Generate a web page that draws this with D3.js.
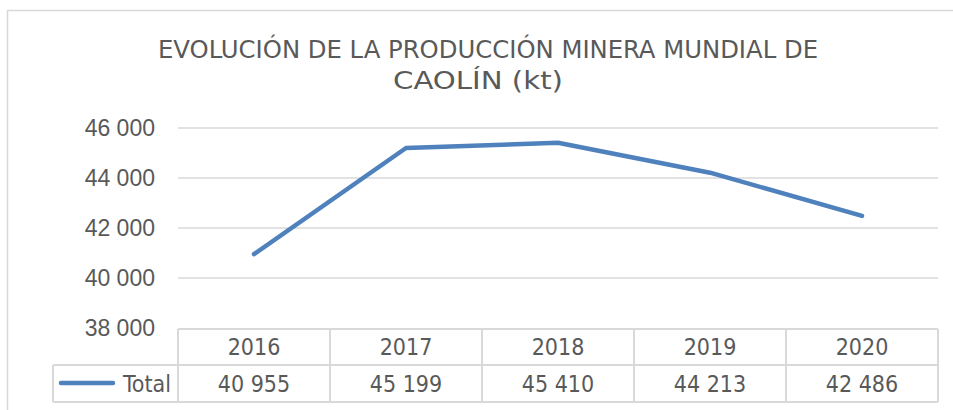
<!DOCTYPE html>
<html><head><meta charset="utf-8">
<script src="https://cdn.jsdelivr.net/npm/d3@7"></script>
<style>
html,body{margin:0;padding:0;background:#fff;}
svg{display:block;font-family:"DejaVu Sans Condensed","DejaVu Sans",sans-serif;}
</style></head>
<body>
<svg id="chart" width="953" height="410"></svg>
<script>
const titleLines = ["EVOLUCIÓN DE LA PRODUCCIÓN MINERA MUNDIAL DE", "CAOLÍN (kt)"];
const years = ["2016", "2017", "2018", "2019", "2020"];
const totals = [40955, 45199, 45410, 44213, 42486];
const yTicks = [38000, 40000, 42000, 44000, 46000];
const seriesName = "Total";

const W = 953, H = 410;
const svg = d3.select("#chart");
const grey = "#d9d9d9", textCol = "#595959", lineCol = "#4f81bd";

const loc = d3.formatLocale({decimal: ",", thousands: "\u00a0", grouping: [3], currency: ["", ""]});
const fmt = loc.format(",d");

// outer border
svg.append("path").attr("d", `M7.5,${H} V10.5 H${W}`).attr("fill", "none").attr("stroke", grey).attr("stroke-width", 1.5);

const x = d3.scaleBand().domain(years).range([178, 938]).padding(0);
const y = d3.scaleLinear().domain([38000, 46000]).range([328, 128]);

// title
const title = svg.append("text").attr("text-anchor", "middle").attr("fill", textCol).style("font-size", "25px");
const titleWidths = [660, 170];
titleLines.forEach((t, i) => title.append("tspan").attr("x", [488, 478][i]).attr("y", 58 + i * 31)
  .attr("textLength", titleWidths[i]).attr("lengthAdjust", "spacingAndGlyphs").text(t));

// gridlines
svg.append("g").selectAll("line").data(yTicks.slice(1)).join("line")
  .attr("x1", 178).attr("x2", 938).attr("y1", d => y(d)).attr("y2", d => y(d))
  .attr("stroke", grey).attr("stroke-width", 1.5);

// y axis labels
const yAxis = d3.axisLeft(y).tickValues(yTicks).tickFormat(fmt).tickSize(0).tickPadding(0);
const gy = svg.append("g").attr("transform", "translate(155,0)").call(yAxis);
gy.select(".domain").remove();
gy.selectAll("text").attr("fill", textCol).style("font-size", "23px").style("font-family", "inherit");

// line
const line = d3.line().x((d, i) => x(years[i]) + x.bandwidth() / 2).y(d => y(d));
svg.append("path").datum(totals).attr("d", line).attr("fill", "none")
  .attr("stroke", lineCol).attr("stroke-width", 4.5).attr("stroke-linecap", "round").attr("stroke-linejoin", "round");

// data table
const tTop = 329, tMid = 365, tBot = 402, legL = 53;
const tg = svg.append("g").attr("stroke", grey).attr("stroke-width", 2).attr("fill", "none");
tg.append("line").attr("x1", 178).attr("x2", 938).attr("y1", tTop).attr("y2", tTop);
tg.append("line").attr("x1", legL).attr("x2", 938).attr("y1", tMid).attr("y2", tMid);
tg.append("line").attr("x1", legL).attr("x2", 938).attr("y1", tBot).attr("y2", tBot);
tg.append("line").attr("x1", legL).attr("x2", legL).attr("y1", tMid).attr("y2", tBot);
const bounds = years.map(d => x(d)).concat([x.range()[1]]);
tg.selectAll("line.v").data(bounds).join("line").attr("class", "v")
  .attr("x1", d => d).attr("x2", d => d).attr("y1", tTop).attr("y2", tBot);

svg.append("g").selectAll("text").data(years).join("text")
  .attr("x", d => x(d) + x.bandwidth() / 2).attr("y", 355)
  .attr("text-anchor", "middle").attr("fill", textCol).style("font-size", "23px").text(d => d);
svg.append("g").selectAll("text").data(totals).join("text")
  .attr("x", (d, i) => x(years[i]) + x.bandwidth() / 2).attr("y", 392)
  .attr("text-anchor", "middle").attr("fill", textCol).style("font-size", "23px").text(d => fmt(d));

// legend key
svg.append("line").attr("x1", 61).attr("x2", 113).attr("y1", 383).attr("y2", 383)
  .attr("stroke", lineCol).attr("stroke-width", 4.5).attr("stroke-linecap", "round");
svg.append("text").attr("x", 171).attr("y", 392).attr("text-anchor", "end").attr("fill", textCol)
  .style("font-size", "23px").text(seriesName);
</script>
</body></html>
